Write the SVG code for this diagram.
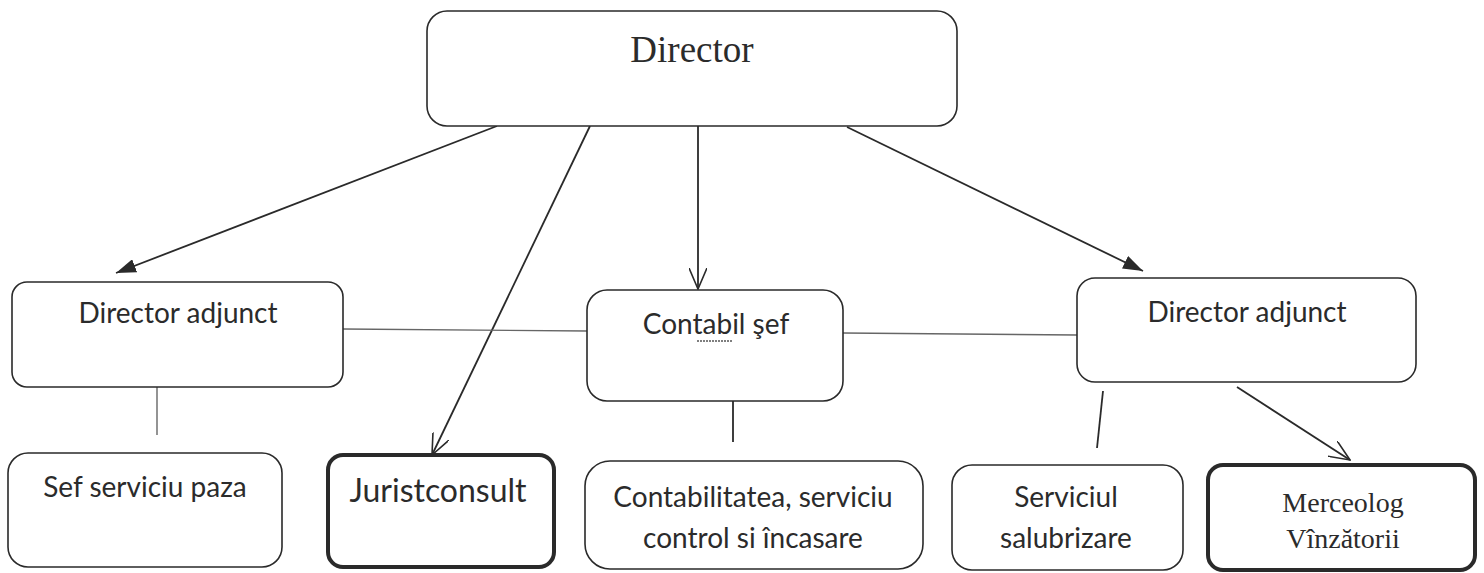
<svg xmlns="http://www.w3.org/2000/svg" width="1484" height="573" viewBox="0 0 1484 573">
<defs>
<style>
.box{fill:#fff;stroke:#2a2a2a;stroke-width:1.6}
.thick{fill:#fff;stroke:#2a2a2a;stroke-width:4}
.t{font-family:Lato,"Liberation Sans",sans-serif;font-size:28px;fill:#2b2b2b;text-anchor:middle}
.big{font-size:32px}
.s{font-family:"Liberation Serif","Times New Roman",serif;fill:#2b2b2b;text-anchor:middle}
.ln{stroke:#2a2a2a;stroke-width:1.8;fill:none}
.lt{stroke:#666;stroke-width:1.4;fill:none}
</style>
<marker id="fa" viewBox="0 0 20 14" refX="20" refY="7" markerWidth="20" markerHeight="14" markerUnits="userSpaceOnUse" orient="auto">
<path d="M0,0 L20,7 L0,14 z" fill="#2a2a2a"/>
</marker>
<marker id="oa" viewBox="0 0 22 18" refX="21" refY="9" markerWidth="22" markerHeight="18" markerUnits="userSpaceOnUse" orient="auto">
<path d="M0,0 L21,9 L0,18" fill="none" stroke="#2a2a2a" stroke-width="1.6"/>
</marker>
</defs>
<rect width="1484" height="573" fill="#fff"/>
<g id="connectors">
<line class="ln" x1="497" y1="126" x2="116" y2="273" marker-end="url(#fa)"/>
<line class="ln" x1="590" y1="126" x2="432" y2="455" marker-end="url(#oa)" stroke-width="1.4"/>
<line class="ln" x1="698" y1="126" x2="698" y2="289" marker-end="url(#oa)"/>
<line class="ln" x1="847" y1="127" x2="1143" y2="271" marker-end="url(#fa)"/>
<line class="lt" x1="343" y1="329" x2="587" y2="331"/>
<line class="lt" x1="843" y1="333" x2="1077" y2="335"/>
<line class="lt" x1="157" y1="387" x2="157" y2="435"/>
<line class="ln" x1="733" y1="395" x2="733" y2="442" stroke-width="1.4"/>
<line class="ln" x1="1103" y1="391" x2="1097" y2="448"/>
<line class="ln" x1="1237" y1="387" x2="1350" y2="460" marker-end="url(#oa)" stroke-width="1.4"/>
</g>
<g id="director">
<rect class="box" x="427" y="11" width="530" height="115" rx="20"/>
<text class="s" x="692" y="62" font-size="37">Director</text>
</g>
<g id="director-adjunct-1">
<rect class="box" x="12" y="282" width="331" height="105" rx="15"/>
<text class="t" x="178" y="323">Director adjunct</text>
</g>
<g id="contabil-sef">
<rect class="box" x="587" y="290" width="256" height="111" rx="20"/>
<text class="t" x="716" y="334">Contabil şef</text>
<line x1="697" y1="341" x2="733" y2="341" stroke="#555" stroke-width="1.5" stroke-dasharray="2 1"/>
</g>
<g id="director-adjunct-2">
<rect class="box" x="1077" y="278" width="339" height="104" rx="18"/>
<text class="t" x="1247" y="322">Director adjunct</text>
</g>
<g id="sef-serviciu-paza">
<rect class="box" x="8" y="453" width="274" height="114" rx="20"/>
<text class="t" x="145" y="497">Sef serviciu paza</text>
</g>
<g id="juristconsult">
<rect class="thick" x="328" y="455" width="226" height="112" rx="15"/>
<text class="t big" x="438" y="502">Juristconsult</text>
</g>
<g id="contabilitatea">
<rect class="box" x="585" y="461" width="338" height="108" rx="25"/>
<text class="t" x="753" y="507">Contabilitatea, serviciu</text>
<text class="t" x="753" y="548">control si încasare</text>
</g>
<g id="serviciul-salubrizare">
<rect class="box" x="952" y="465" width="231" height="105" rx="20"/>
<text class="t" x="1066" y="507">Serviciul</text>
<text class="t" x="1066" y="548">salubrizare</text>
</g>
<g id="merceolog">
<rect class="thick" x="1208" y="465" width="267" height="105" rx="15"/>
<text class="s" x="1343" y="512" font-size="28">Merceolog</text>
<text class="s" x="1343" y="548" font-size="28">Vînzătorii</text>
</g>
</svg>
